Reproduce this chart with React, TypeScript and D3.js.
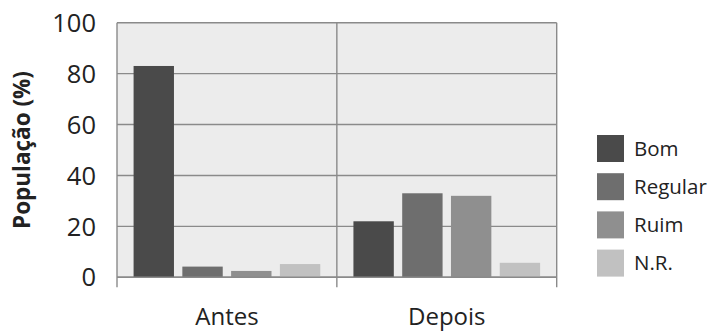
import React from "react";
import * as d3 from "d3";

const groups = ["Antes", "Depois"];
const series = ["Bom", "Regular", "Ruim", "N.R."];
const antes = [83, 4.2, 2.5, 5.2];
const depois = [22, 33, 32, 5.7];
const yTicks = [0, 20, 40, 60, 80, 100];
const colors = ["#4a4a4a", "#6e6e6e", "#8f8f8f", "#c1c1c1"];

const W = 709;
const H = 331;
const left = 117;
const right = 556.7;
const top = 22.7;
const bottom = 277.3;
const font = "'Open Sans', 'Noto Sans', sans-serif";

export default function App() {
  const values = [antes, depois];
  const x0 = d3.scaleBand<string>().domain(groups).range([left, right]).paddingInner(0).paddingOuter(0);
  const x1 = d3
    .scaleBand<string>()
    .domain(series)
    .range([0, x0.bandwidth()])
    .paddingInner(0.172)
    .paddingOuter(0.34);
  const y = d3.scaleLinear().domain([0, 100]).range([bottom, top]);
  const gridColor = "#8a8a8a";

  return (
    <svg width={W} height={H} style={{ position: "absolute", left: 0, top: 0 }}>
      <rect x={left} y={top} width={right - left} height={bottom - top} fill="#ececec" />
      {yTicks.map((t) => (
        <line key={t} x1={left} x2={right} y1={y(t)} y2={y(t)} stroke={gridColor} strokeWidth={1.4} />
      ))}
      {groups.map((g, gi) =>
        series.map((s, si) => (
          <rect
            key={g + s}
            x={x0(g)! + x1(s)!}
            y={y(values[gi][si])}
            width={x1.bandwidth()}
            height={y(0) - y(values[gi][si])}
            fill={colors[si]}
          />
        ))
      )}
      {[left, ...groups.map((g) => x0(g)! + x0.bandwidth())].map((xv, i) => (
        <line key={i} x1={xv} x2={xv} y1={top} y2={bottom + 10} stroke={gridColor} strokeWidth={1.4} />
      ))}
      <line x1={left} x2={right} y1={y(0)} y2={y(0)} stroke={gridColor} strokeWidth={1.4} />
      {yTicks.map((t) => (
        <text key={t} x={96} y={y(t)} dy="0.36em" textAnchor="end" fontFamily={font} fontSize={25.5} fill="#222">
          {t}
        </text>
      ))}
      {groups.map((g) => (
        <text
          key={g}
          x={x0(g)! + x0.bandwidth() / 2}
          y={325}
          textAnchor="middle"
          fontFamily={font}
          fontSize={24}
          fill="#222"
        >
          {g}
        </text>
      ))}
      <text
        transform={`translate(29.5,${(top + bottom) / 2}) rotate(-90)`}
        textAnchor="middle"
        fontFamily={font}
        fontWeight="bold"
        fontSize={22.5}
        fill="#222"
      >
        População (%)
      </text>
      {series.map((s, i) => (
        <g key={s} transform={`translate(597,${135 + i * 38.2})`}>
          <rect width={27} height={27} fill={colors[i]} />
          <text x={37} y={13.5} dy="0.36em" fontFamily={font} fontSize={20.5} fill="#222">
            {s}
          </text>
        </g>
      ))}
    </svg>
  );
}
